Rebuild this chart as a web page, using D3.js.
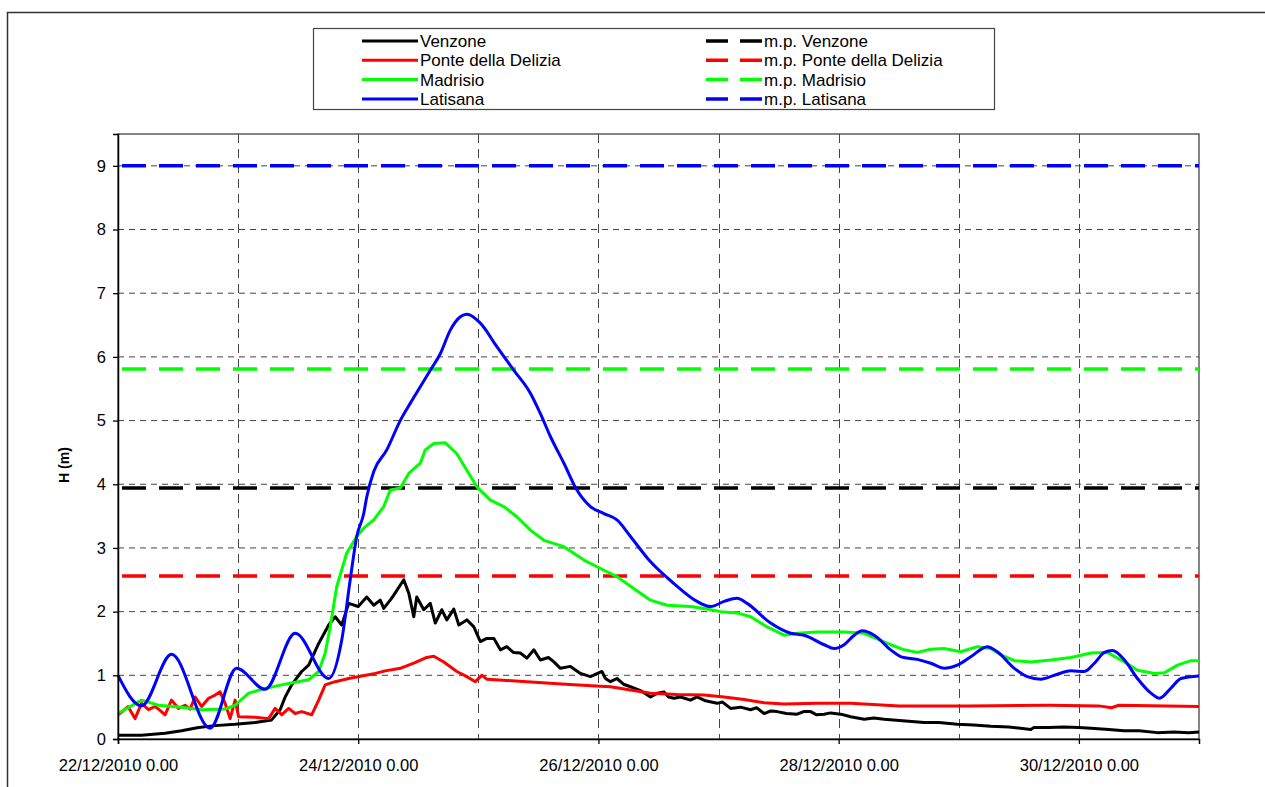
<!DOCTYPE html>
<html>
<head>
<meta charset="utf-8">
<script src="https://cdn.jsdelivr.net/npm/d3@7"></script>
<style>
  body { margin: 0; background: #fff; }
  text { font-family: Arial, "Liberation Sans", sans-serif; }
</style>
</head>
<body>
<div id="chart"></div>
<script>
// hours after 22/12/2010 0.00, and level in m
var venzoneHours = [0, 4.7, 9.4, 12.7, 16.1, 19.4, 23.4, 27.4, 30.7, 32.4, 33.4, 34.7, 36.7, 38.1, 40.1, 42.1, 43.4, 44.7, 46.1, 48, 49.7, 51.1, 52.4, 53.1, 54.4, 55.1, 57.1, 58.1, 59.1, 59.7, 61.1, 62.4, 63.4, 64.7, 65.7, 67.1, 68.1, 69.7, 71.1, 72.4, 73.7, 75.1, 76.4, 77.7, 79, 80.4, 81.7, 83.1, 84.4, 86, 87.1, 88.4, 90.4, 92.4, 94.4, 96.7, 97.4, 98.4, 99.7, 101, 102.4, 104.4, 106.4, 107.8, 109.1, 110, 111.1, 112.4, 114.4, 115.7, 117.4, 119.7, 120.8, 122.4, 124.4, 126.4, 127.6, 129.1, 130.4, 131.7, 133.6, 135.7, 137, 138.4, 139.6, 141.1, 142.4, 144.4, 146.4, 149.1, 151, 153.1, 156.1, 158, 161.1, 164, 167.7, 171, 174.4, 178, 182.4, 183, 186, 189, 192, 194.4, 198, 201, 204, 207.7, 211, 214, 216];
var venzoneVals = [0.06, 0.06, 0.09, 0.13, 0.18, 0.21, 0.23, 0.26, 0.30, 0.46, 0.66, 0.85, 1.06, 1.16, 1.50, 1.79, 1.92, 1.79, 2.13, 2.08, 2.23, 2.10, 2.18, 2.05, 2.18, 2.26, 2.50, 2.29, 1.92, 2.23, 2.03, 2.13, 1.82, 2.03, 1.87, 2.04, 1.79, 1.87, 1.76, 1.53, 1.58, 1.58, 1.40, 1.45, 1.36, 1.35, 1.27, 1.40, 1.24, 1.28, 1.21, 1.11, 1.14, 1.03, 0.98, 1.06, 0.95, 0.90, 0.95, 0.86, 0.82, 0.76, 0.66, 0.72, 0.74, 0.66, 0.64, 0.66, 0.61, 0.66, 0.60, 0.56, 0.58, 0.48, 0.50, 0.46, 0.49, 0.40, 0.44, 0.43, 0.40, 0.39, 0.43, 0.43, 0.38, 0.39, 0.41, 0.39, 0.35, 0.31, 0.33, 0.31, 0.29, 0.28, 0.26, 0.26, 0.23, 0.22, 0.20, 0.19, 0.15, 0.18, 0.18, 0.19, 0.18, 0.17, 0.15, 0.13, 0.13, 0.10, 0.11, 0.10, 0.11];

var ponteHours = [0, 1, 2, 3.4, 4.7, 6.1, 7.4, 8.4, 9.4, 10.7, 12.1, 13.4, 14.4, 15.4, 16.7, 18.1, 19.4, 20.4, 21.4, 22.4, 23.4, 24.1, 27.4, 30.1, 31.4, 32.7, 34.1, 35.4, 36.7, 38.7, 40.1, 41.4, 43.4, 46.1, 48.7, 51.4, 53.4, 56.4, 59.1, 61.7, 63.1, 65.1, 67.7, 69.7, 71.4, 72.7, 73.7, 77.7, 81.7, 87.1, 91.1, 96.4, 98.4, 102.4, 106.4, 111.7, 117.1, 121.1, 125.1, 129.1, 133.1, 139.7, 146.4, 156.1, 170, 186, 196, 198.5, 200, 216];
var ponteVals = [0.38, 0.44, 0.51, 0.32, 0.56, 0.46, 0.51, 0.45, 0.38, 0.61, 0.48, 0.53, 0.47, 0.66, 0.51, 0.64, 0.69, 0.74, 0.56, 0.32, 0.61, 0.35, 0.34, 0.32, 0.48, 0.38, 0.48, 0.40, 0.43, 0.38, 0.61, 0.85, 0.90, 0.95, 0.99, 1.03, 1.07, 1.11, 1.19, 1.28, 1.30, 1.21, 1.06, 0.98, 0.90, 1.00, 0.94, 0.92, 0.90, 0.87, 0.85, 0.83, 0.82, 0.77, 0.72, 0.70, 0.69, 0.66, 0.62, 0.57, 0.55, 0.56, 0.56, 0.52, 0.52, 0.53, 0.52, 0.49, 0.53, 0.51];

var madrisioHours = [0, 4.7, 8.1, 12.7, 16.7, 21.4, 23.4, 26.1, 28.7, 32.7, 34.1, 38.1, 40.1, 41.4, 42.4, 43.7, 45.7, 47.7, 49.1, 51.1, 53.1, 54.4, 56.4, 58.1, 60.4, 61.4, 63.1, 65.4, 67.7, 69.7, 71.7, 74.4, 77.1, 79.7, 82.4, 85.1, 89.1, 93.1, 97.1, 99.7, 102.4, 106.4, 109.7, 114.4, 117.7, 120.4, 123.7, 126.4, 129.7, 133.1, 135.7, 139.7, 145.1, 149.1, 152.4, 154.4, 157.1, 159.7, 162.4, 165.1, 168.4, 171.7, 174.4, 176.4, 179.1, 182.4, 186.4, 190.4, 194.4, 197.7, 201.1, 203.7, 207.1, 209.1, 211.7, 214.4, 216];
var madrisioVals = [0.40, 0.61, 0.53, 0.50, 0.46, 0.47, 0.53, 0.72, 0.78, 0.85, 0.87, 0.93, 1.06, 1.35, 1.76, 2.39, 2.92, 3.18, 3.31, 3.44, 3.65, 3.91, 3.94, 4.17, 4.33, 4.54, 4.64, 4.65, 4.48, 4.22, 3.96, 3.75, 3.65, 3.49, 3.28, 3.12, 3.02, 2.81, 2.65, 2.55, 2.40, 2.18, 2.10, 2.08, 2.04, 2.00, 1.98, 1.92, 1.76, 1.63, 1.66, 1.68, 1.68, 1.66, 1.55, 1.48, 1.40, 1.36, 1.41, 1.42, 1.37, 1.45, 1.42, 1.32, 1.23, 1.21, 1.24, 1.28, 1.35, 1.36, 1.21, 1.08, 1.03, 1.04, 1.16, 1.23, 1.23];

var latisanaHours = [0, 4.7, 10.7, 18.4, 23.7, 29.4, 35.4, 42.1, 44.7, 46.4, 47.7, 49.1, 49.7, 51.1, 53.7, 56.4, 58.4, 60.4, 62.4, 64.4, 66.4, 68.4, 69.7, 72.4, 75.7, 79.1, 82.4, 84.4, 86.4, 89.1, 91.7, 94.4, 97.1, 99.7, 102.4, 106.1, 111.1, 115.7, 118.4, 121.1, 123.7, 125.7, 130.4, 134.4, 137.1, 141.1, 143.1, 145.1, 147.1, 148.7, 151.1, 154.4, 156.5, 159.7, 162.4, 165.1, 167.7, 170.4, 173.7, 175.7, 179.1, 181.7, 184.4, 187.1, 190.4, 193.1, 195.1, 197.1, 198.7, 201.1, 203.7, 206.4, 208.1, 210.4, 212.4, 216];
var latisanaVals = [1.00, 0.52, 1.33, 0.17, 1.11, 0.78, 1.66, 0.95, 1.55, 2.50, 3.18, 3.54, 3.80, 4.20, 4.54, 5.00, 5.27, 5.53, 5.79, 6.05, 6.42, 6.63, 6.67, 6.53, 6.16, 5.79, 5.43, 5.11, 4.75, 4.33, 3.91, 3.65, 3.54, 3.44, 3.18, 2.81, 2.44, 2.16, 2.08, 2.16, 2.21, 2.13, 1.82, 1.66, 1.63, 1.48, 1.42, 1.48, 1.63, 1.70, 1.63, 1.40, 1.29, 1.25, 1.19, 1.11, 1.16, 1.29, 1.45, 1.37, 1.11, 0.98, 0.94, 1.00, 1.07, 1.06, 1.19, 1.36, 1.39, 1.24, 0.95, 0.72, 0.64, 0.80, 0.95, 0.99];

// alert levels (m.p.)
var mpNames = ["m.p. Venzone", "m.p. Ponte della Delizia", "m.p. Madrisio", "m.p. Latisana"];
var mpVals = [3.94, 2.56, 5.81, 9.0];

var seriesNames = ["Venzone", "Ponte della Delizia", "Madrisio", "Latisana"];
var seriesColors = ["#000000", "#ff0000", "#00ff00", "#0000ff"];
var yTicks = [0, 1, 2, 3, 4, 5, 6, 7, 8, 9];

var W = 1265, H = 787;
var plot = {left: 118, right: 1199, top: 134, bottom: 739};
var t0 = new Date(2010, 11, 22, 0, 0);
var t1 = new Date(2010, 11, 31, 0, 0);

function toDate(h) { return new Date(t0.getTime() + h * 3600000); }

var svg = d3.select("#chart").append("svg")
    .attr("width", W)
    .attr("height", H);

// outer frame
svg.append("rect")
    .attr("x", 7.5).attr("y", 12.5)
    .attr("width", W + 20).attr("height", H + 20)
    .attr("fill", "none")
    .attr("stroke", "#333")
    .attr("stroke-width", 1.5);

var x = d3.scaleTime()
    .domain([t0, t1])
    .range([plot.left, plot.right]);

var y = d3.scaleLinear()
    .domain([0, 9.5])
    .range([plot.bottom, plot.top]);

// grid
var g = svg.append("g");
g.selectAll(".hgrid")
    .data(yTicks.slice(1))
  .enter().append("line")
    .attr("x1", plot.left).attr("x2", plot.right)
    .attr("y1", function(d) { return y(d); })
    .attr("y2", function(d) { return y(d); })
    .attr("stroke", "#444")
    .attr("stroke-width", 1)
    .attr("stroke-dasharray", "6,5");

g.selectAll(".vgrid")
    .data(d3.timeDay.range(d3.timeDay.offset(t0, 1), t1))
  .enter().append("line")
    .attr("y1", plot.top).attr("y2", plot.bottom)
    .attr("x1", function(d) { return Math.round(x(d)) + 0.5; })
    .attr("x2", function(d) { return Math.round(x(d)) + 0.5; })
    .attr("stroke", "#444")
    .attr("stroke-width", 1)
    .attr("stroke-dasharray", "9,6");

// plot border
svg.append("rect")
    .attr("x", plot.left).attr("y", plot.top)
    .attr("width", plot.right - plot.left)
    .attr("height", plot.bottom - plot.top)
    .attr("fill", "none")
    .attr("stroke", "#444")
    .attr("stroke-width", 1.3);

// alert levels
svg.selectAll(".mp")
    .data(mpVals)
  .enter().append("line")
    .attr("x1", plot.left + 4).attr("x2", plot.right)
    .attr("y1", function(d) { return y(d); })
    .attr("y2", function(d) { return y(d); })
    .attr("stroke", function(d, i) { return seriesColors[i]; })
    .attr("stroke-width", 3.5)
    .attr("stroke-dasharray", "24,13");

// series
var hoursList = [venzoneHours, ponteHours, madrisioHours, latisanaHours];
var valsList = [venzoneVals, ponteVals, madrisioVals, latisanaVals];

var line = d3.line()
    .x(function(d) { return x(d.t); })
    .y(function(d) { return y(d.v); });

for (var i = 0; i < hoursList.length; i++) {
  var data = hoursList[i].map(function(h, j) { return {t: toDate(h), v: valsList[i][j]}; });
  svg.append("path")
    .datum(data)
    .attr("fill", "none")
    .attr("stroke", seriesColors[i])
    .attr("stroke-width", 3)
    .attr("stroke-linejoin", "round")
    .attr("d", i == 3 ? line.curve(d3.curveMonotoneX)(data) : line.curve(d3.curveLinear)(data));
}

// axes
var yAxis = svg.append("g")
    .attr("transform", "translate(" + plot.left + ",0)")
    .call(d3.axisLeft(y).tickValues(yTicks).tickSize(5).tickPadding(7).tickFormat(d3.format("d")));

var fmt = d3.timeFormat("%d/%m/%Y %-H.%M");
var xAxis = svg.append("g")
    .attr("transform", "translate(0," + plot.bottom + ")")
    .call(d3.axisBottom(x).tickValues(d3.timeDay.range(t0, t1, 2)).tickSize(5).tickPadding(15).tickFormat(fmt));

[yAxis, xAxis].forEach(function(a) {
  a.selectAll("text").attr("font-size", 16.5).attr("fill", "#000")
    .attr("font-family", "Arial, 'Liberation Sans', sans-serif");
  a.selectAll("line").attr("stroke", "#000").attr("stroke-width", 1.3);
  a.select(".domain").attr("stroke", "#000").attr("stroke-width", 1.5);
});

svg.append("text")
    .attr("transform", "translate(69,465) rotate(-90)")
    .attr("text-anchor", "middle")
    .attr("font-size", 14)
    .attr("font-weight", "bold")
    .text("H (m)");

// legend
var leg = svg.append("g");
leg.append("rect")
    .attr("x", 313.5).attr("y", 28.5)
    .attr("width", 681).attr("height", 81)
    .attr("fill", "#fff")
    .attr("stroke", "#444")
    .attr("stroke-width", 1.2);

seriesNames.forEach(function(n, i) {
  var yy = 41 + i * 19.3;
  leg.append("line")
    .attr("x1", 362).attr("x2", 418)
    .attr("y1", yy).attr("y2", yy)
    .attr("stroke", seriesColors[i]).attr("stroke-width", 3);
  leg.append("text")
    .attr("x", 420).attr("y", yy + 6)
    .attr("font-size", 17)
    .text(n);
  leg.append("line")
    .attr("x1", 706).attr("x2", 762)
    .attr("y1", yy).attr("y2", yy)
    .attr("stroke", seriesColors[i]).attr("stroke-width", 3.5)
    .attr("stroke-dasharray", "22,12");
  leg.append("text")
    .attr("x", 764).attr("y", yy + 6)
    .attr("font-size", 17)
    .text(mpNames[i]);
});
</script>
</body>
</html>
